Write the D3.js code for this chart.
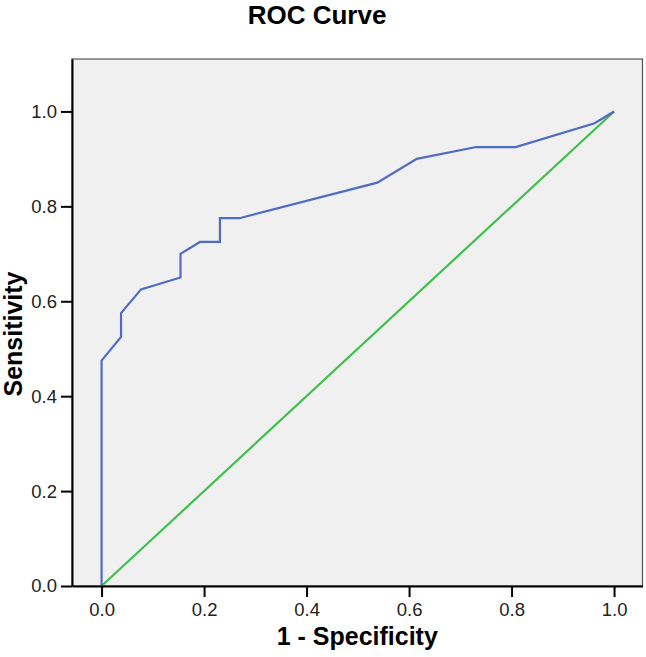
<!DOCTYPE html>
<html>
<head>
<meta charset="utf-8">
<script src="https://cdn.jsdelivr.net/npm/d3@7"></script>
<style>
  body { margin: 0; background: #fff; }
  text { font-family: "Liberation Sans", Arial, sans-serif; }
</style>
</head>
<body>
<div id="chart"></div>
<script>
// ROC points (26 negatives, 40 positives)
const specComp = [0, 0, 0.038, 0.038, 0.077, 0.154, 0.154, 0.192, 0.231, 0.231, 0.269, 0.538, 0.615, 0.731, 0.808, 0.962, 1];
const sensitivity = [0, 0.475, 0.525, 0.575, 0.625, 0.65, 0.70, 0.725, 0.725, 0.775, 0.775, 0.85, 0.90, 0.925, 0.925, 0.975, 1];
const refLine = [[0, 0], [1, 1]];
const ticks = [0, 0.2, 0.4, 0.6, 0.8, 1.0];

const colors = {
    bg: "#f0f0f0",
    roc: "#4f6bc4",
    ref: "#3fc04c",
    axis: "#000",
    frame: "#555"
};

const width = 646, height = 657;
const margins = { top: 59, right: 3.5, bottom: 71, left: 72 };

const svg = d3.select("#chart")
    .append("svg")
    .attr("width", width)
    .attr("height", height);

const x = d3.scaleLinear()
    .domain([-0.0577, 1.0555])
    .range([margins.left, width - margins.right]);
const y = d3.scaleLinear()
    .domain([0, 1.1105])
    .range([height - margins.bottom, margins.top]);

// plot background + frame
svg.append("rect")
    .attr("x", x.range()[0])
    .attr("y", y.range()[1])
    .attr("width", x.range()[1] - x.range()[0])
    .attr("height", y.range()[0] - y.range()[1])
    .attr("fill", colors.bg)
    .attr("stroke", colors.frame)
    .attr("stroke-width", 1.2);

const line = d3.line()
    .x(d => x(d[0]))
    .y(d => y(d[1]));

svg.append("path")
    .attr("d", line(refLine))
    .attr("fill", "none")
    .attr("stroke", colors.ref)
    .attr("stroke-width", 2.2);

svg.append("path")
    .attr("d", line(specComp.map((v, i) => [v, sensitivity[i]])))
    .attr("fill", "none")
    .attr("stroke", colors.roc)
    .attr("stroke-width", 2.2);

const fmt = d3.format(".1f");

const gx = svg.append("g")
    .attr("transform", `translate(0,${y(0)})`)
    .call(d3.axisBottom(x).tickValues(ticks).tickFormat(fmt).tickSize(11).tickPadding(6).tickSizeOuter(0));
gx.select(".domain").attr("stroke-width", 2);

const gy = svg.append("g")
    .attr("transform", `translate(${x.range()[0]},0)`)
    .call(d3.axisLeft(y).tickValues(ticks).tickFormat(fmt).tickSize(11).tickPadding(4).tickSizeOuter(0));
gy.select(".domain").attr("stroke-width", 2);

svg.selectAll(".tick line").attr("stroke-width", 2);
svg.selectAll(".tick text")
    .attr("font-size", 18.5)
    .attr("font-family", "Liberation Sans, Arial, sans-serif")
    .attr("fill", "#222");

// titles
svg.append("text")
    .attr("x", 317)
    .attr("y", 24)
    .attr("text-anchor", "middle")
    .attr("font-size", 26)
    .attr("font-weight", "bold")
    .text("ROC Curve");

svg.append("text")
    .attr("x", (x.range()[0] + x.range()[1]) / 2)
    .attr("y", 645)
    .attr("text-anchor", "middle")
    .attr("font-size", 25)
    .attr("font-weight", "bold")
    .text("1 - Specificity");

svg.append("text")
    .attr("transform", `translate(22,334) rotate(-90)`)
    .attr("text-anchor", "middle")
    .attr("font-size", 25)
    .attr("font-weight", "bold")
    .text("Sensitivity");
</script>
</body>
</html>
